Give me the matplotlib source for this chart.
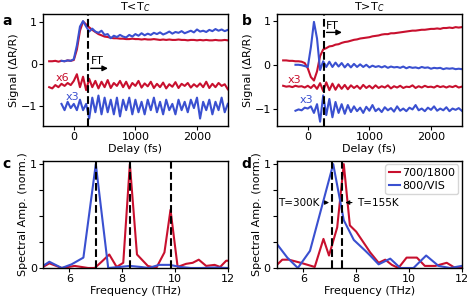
import numpy as np
import matplotlib
matplotlib.use("Agg")
import matplotlib.pyplot as plt

RED = "#c8102e"
BLUE = "#3a50d0"

# ---- time traces (delay in fs) ----
t_red = np.arange(-400, 2501, 50)
t_blue = np.arange(-200, 2501, 50)

# panel a, T<Tc
a_red = [0.07, 0.07, 0.08, 0.06, 0.08, 0.07, 0.09, 0.08, 0.10, 0.35, 0.80, 1.02,
         0.95, 0.88, 0.82, 0.77, 0.72, 0.69, 0.66, 0.65, 0.63, 0.62, 0.62, 0.61,
         0.61, 0.60, 0.60, 0.61, 0.60, 0.60, 0.59, 0.60, 0.59, 0.59, 0.60, 0.59,
         0.58, 0.59, 0.58, 0.59, 0.58, 0.58, 0.59, 0.58, 0.58, 0.57, 0.58, 0.58,
         0.57, 0.58, 0.57, 0.58, 0.57, 0.57, 0.58, 0.57, 0.57, 0.58, 0.57]
a_blue = [0.08, 0.07, 0.09, 0.08, 0.12, 0.45, 0.90, 1.03, 0.90, 0.78, 0.85, 0.78,
          0.75, 0.80, 0.70, 0.72, 0.62, 0.68, 0.65, 0.70, 0.66, 0.64, 0.70, 0.66,
          0.72, 0.68, 0.74, 0.69, 0.73, 0.70, 0.75, 0.72, 0.76, 0.71, 0.74, 0.78,
          0.73, 0.77, 0.75, 0.79, 0.74, 0.77, 0.80, 0.76, 0.83, 0.78, 0.80, 0.77,
          0.82, 0.79, 0.84, 0.80, 0.83, 0.79, 0.82]
a_red_osc = [-0.55, -0.58, -0.50, -0.55, -0.47, -0.52, -0.45, -0.50, -0.40, -0.24,
             -0.55, -0.30, -0.62, -0.35, -0.55, -0.40, -0.58, -0.42, -0.55, -0.38,
             -0.57, -0.45, -0.52, -0.40, -0.55, -0.42, -0.58, -0.45, -0.52, -0.40,
             -0.56, -0.46, -0.53, -0.42, -0.57, -0.47, -0.55, -0.44, -0.58, -0.48,
             -0.54, -0.43, -0.57, -0.47, -0.52, -0.45, -0.56, -0.48, -0.54, -0.46,
             -0.55, -0.42, -0.57, -0.47, -0.55, -0.45, -0.52, -0.48, -0.60]
a_blue_osc = [-0.95, -1.10, -0.90, -1.05, -0.95, -1.10, -0.85, -1.10, -0.95, -1.30,
              -0.80, -1.15, -0.75, -1.20, -0.80, -1.15, -0.85, -1.20, -0.80, -1.25,
              -0.85, -1.10, -0.80, -1.20, -0.85, -1.15, -0.90, -1.20, -0.85, -1.10,
              -0.80, -1.15, -0.90, -1.20, -0.85, -1.10, -0.95, -1.20, -0.85, -1.10,
              -0.90, -1.15, -0.85, -1.05, -0.80, -1.30, -0.90, -1.10, -0.85, -1.20,
              -0.90, -1.10, -0.80, -1.15, -0.95]

# panel b, T>Tc
b_red = [0.10, 0.10, 0.09, 0.09, 0.08, 0.08, 0.07, 0.04, -0.08, -0.28, -0.36, -0.15,
         0.20, 0.35, 0.38, 0.42, 0.43, 0.46, 0.47, 0.50, 0.52, 0.53, 0.55, 0.57,
         0.58, 0.60, 0.61, 0.62, 0.63, 0.65, 0.66, 0.67, 0.69, 0.70, 0.70, 0.72,
         0.72, 0.73, 0.74, 0.75, 0.76, 0.77, 0.78, 0.78, 0.79, 0.80, 0.80, 0.81,
         0.82, 0.82, 0.83, 0.82, 0.84, 0.84, 0.85, 0.84, 0.86, 0.85, 0.86]
b_blue = [0.00, 0.00, -0.01, -0.03, -0.05, 0.40, 0.98, 0.60, -0.12, 0.08, -0.05, 0.07,
          -0.05, 0.05, -0.04, 0.04, -0.06, 0.02, -0.06, 0.02, -0.05, 0.01, -0.05, 0.00,
          -0.06, -0.02, -0.05, -0.03, -0.06, -0.03, -0.07, -0.04, -0.06, -0.05, -0.07,
          -0.04, -0.08, -0.05, -0.07, -0.06, -0.08, -0.05, -0.07, -0.06, -0.09, -0.07,
          -0.08, -0.07, -0.10, -0.08, -0.09, -0.08, -0.10, -0.09, -0.10]
b_red_osc = [-0.48, -0.50, -0.49, -0.51, -0.48, -0.50, -0.49, -0.52, -0.48, -0.53,
             -0.46, -0.55, -0.42, -0.60, -0.40, -0.58, -0.43, -0.57, -0.45, -0.55,
             -0.46, -0.56, -0.47, -0.53, -0.48, -0.55, -0.46, -0.53, -0.48, -0.54,
             -0.47, -0.53, -0.49, -0.52, -0.47, -0.54, -0.49, -0.52, -0.48, -0.53,
             -0.50, -0.51, -0.47, -0.53, -0.49, -0.52, -0.48, -0.51, -0.50, -0.52,
             -0.48, -0.51, -0.49, -0.52, -0.49, -0.51, -0.48, -0.52, -0.50]
b_blue_osc = [-1.05, -1.02, -1.04, -0.98, -1.00, -0.95, -1.10, -0.90, -1.30, -0.70,
              -1.15, -0.78, -1.20, -0.85, -1.10, -0.90, -1.12, -0.92, -1.08, -0.95,
              -1.06, -0.98, -1.10, -0.96, -1.05, -0.92, -1.06, -1.00, -1.08, -0.97,
              -1.04, -0.99, -1.07, -0.95, -1.05, -1.00, -1.06, -0.98, -1.02, -0.92,
              -1.04, -1.00, -1.06, -0.98, -1.03, -0.95, -1.05, -1.00, -1.04, -0.97,
              -1.06, -1.00, -1.03, -0.99, -1.05]

# ---- spectra (frequency in THz) ----
c_freq_red = [5.0, 5.24, 5.71, 6.2, 6.71, 6.96, 7.22, 7.51, 7.79, 8.04, 8.29, 8.56,
              8.97, 9.29, 9.6, 9.83, 10.1, 10.42, 10.67, 10.9, 11.18, 11.5, 11.71,
              11.94, 12.1]
c_amp_red = [0.01, 0.045, 0.0, 0.02, 0.0, 0.0, 0.06, 0.13, 0.01, 0.05, 1.0, 0.13,
             0.02, 0.0, 0.15, 0.56, 0.01, 0.04, 0.05, 0.08, 0.02, 0.03, 0.01, 0.07, 0.07]
c_freq_blue = [5.0, 5.24, 5.71, 6.08, 6.53, 7.0, 7.47, 7.9, 8.29, 8.7, 9.0, 9.4,
               9.8, 10.2, 10.6, 11.0, 11.5, 12.0]
c_amp_blue = [0.02, 0.06, 0.0, 0.035, 0.1, 1.0, 0.0, 0.01, 0.02, 0.01, 0.0, 0.03,
              0.03, 0.01, 0.0, 0.0, 0.005, 0.0]

d_freq_red = [5.0, 5.2, 5.45, 5.9, 6.43, 6.76, 6.97, 7.28, 7.53, 7.76, 8.0, 8.4,
              8.53, 8.85, 9.1, 9.35, 9.6, 9.91, 10.3, 10.6, 11.0, 11.43, 11.75, 12.0]
d_amp_red = [0.03, 0.08, 0.08, 0.05, 0.01, 0.28, 0.12, 0.39, 1.0, 0.41, 0.35, 0.2,
             0.15, 0.05, 0.08, 0.03, 0.0, 0.1, 0.1, 0.02, 0.02, 0.05, 0.0, 0.01]
d_freq_blue = [5.0, 5.39, 5.79, 6.25, 7.13, 7.53, 7.91, 8.35, 8.53, 8.85, 9.29,
               9.67, 10.17, 10.65, 11.12, 11.56, 12.0]
d_amp_blue = [0.23, 0.1, 0.0, 0.165, 1.0, 0.46, 0.27, 0.165, 0.12, 0.035, 0.09,
              0.0, 0.0, 0.12, 0.02, 0.0, 0.02]

plt.rcParams['font.size'] = 8
plt.rcParams['axes.linewidth'] = 1.0

fig = plt.figure(figsize=(4.69, 2.98), dpi=100)
ax_a = fig.add_axes([0.0917, 0.577, 0.394, 0.376])
ax_b = fig.add_axes([0.5906, 0.577, 0.394, 0.376])
ax_c = fig.add_axes([0.0917, 0.1007, 0.394, 0.359])
ax_d = fig.add_axes([0.5906, 0.1007, 0.394, 0.359])

lw = 1.5


def time_panel(ax, top_red, top_blue, osc_red, osc_blue, tmark, ylim, title):
    ax.plot(t_red, top_red, color=RED, lw=lw)
    ax.plot(t_blue, top_blue, color=BLUE, lw=lw)
    ax.plot(t_red, osc_red, color=RED, lw=lw)
    ax.plot(t_blue, osc_blue, color=BLUE, lw=lw)
    ax.axvline(tmark, color='k', ls='--', lw=1.5)
    ax.set_xlim(-500, 2500)
    ax.set_ylim(*ylim)
    ax.set_xticks([0, 1000, 2000])
    ax.set_yticks([-1, 0, 1])
    ax.set_xlabel('Delay (fs)', labelpad=1)
    ax.set_ylabel('Signal (ΔR/R)', labelpad=1)
    ax.set_title(title, fontsize=8, pad=2)
    ax.tick_params(length=3, pad=1.5)


time_panel(ax_a, a_red, a_blue, a_red_osc, a_blue_osc, 230, (-1.48, 1.2), 'T<T$_C$')
ax_a.annotate('', xy=(600, -0.1), xytext=(230, -0.1),
              arrowprops=dict(arrowstyle='-|>', color='k', lw=1, mutation_scale=8))
ax_a.text(280, -0.04, 'FT', fontsize=8, va='bottom')
ax_a.text(-300, -0.34, 'x6', color=RED, fontsize=8, va='center')
ax_a.text(-140, -0.78, 'x3', color=BLUE, fontsize=8, va='center')

time_panel(ax_b, b_red, b_blue, b_red_osc, b_blue_osc, 260, (-1.4, 1.16), 'T>T$_C$')
ax_b.annotate('', xy=(600, 0.74), xytext=(260, 0.74),
              arrowprops=dict(arrowstyle='-|>', color='k', lw=1, mutation_scale=8))
ax_b.text(300, 0.78, 'FT', fontsize=8, va='bottom')
ax_b.text(-320, -0.35, 'x3', color=RED, fontsize=8, va='center')
ax_b.text(-130, -0.80, 'x3', color=BLUE, fontsize=8, va='center')


def freq_panel(ax, fr, ar, fb, ab, marks):
    ax.plot(fr, ar, color=RED, lw=lw, label='700/1800')
    ax.plot(fb, ab, color=BLUE, lw=lw, label='800/VIS')
    for m in marks:
        ax.axvline(m, color='k', ls='--', lw=1.5)
    ax.set_xlim(5, 12)
    ax.set_ylim(0, 1.03)
    ax.set_xticks([6, 8, 10, 12])
    ax.set_yticks([0, 0.25, 0.5, 0.75, 1])
    ax.set_yticklabels(['0', '', '', '', '1'])
    ax.set_xlabel('Frequency (THz)', labelpad=1)
    ax.set_ylabel('Spectral Amp. (norm.)', labelpad=1)
    ax.tick_params(length=3, pad=1.5)


freq_panel(ax_c, c_freq_red, c_amp_red, c_freq_blue, c_amp_blue, [7.0, 8.3, 9.83])
freq_panel(ax_d, d_freq_red, d_amp_red, d_freq_blue, d_amp_blue, [7.08, 7.48])
ax_d.legend(loc='upper right', fontsize=8, handlelength=1.0, handletextpad=0.2,
            borderpad=0.3, labelspacing=0.3, borderaxespad=0.3)
ax_d.annotate('T=300K', xy=(7.08, 0.63), xytext=(6.6, 0.63), ha='right', va='center',
              fontsize=7.5, arrowprops=dict(arrowstyle='-|>', color='k', lw=0.8, mutation_scale=6))
ax_d.annotate('T=155K', xy=(7.48, 0.63), xytext=(8.05, 0.63), ha='left', va='center',
              fontsize=7.5, arrowprops=dict(arrowstyle='-|>', color='k', lw=0.8, mutation_scale=6))

for lab, x, y in [('a', 0.004, 0.93), ('b', 0.515, 0.93), ('c', 0.004, 0.45), ('d', 0.515, 0.45)]:
    fig.text(x, y, lab, fontsize=10, fontweight='bold', va='center')

fig.savefig('out.png', dpi=100)
